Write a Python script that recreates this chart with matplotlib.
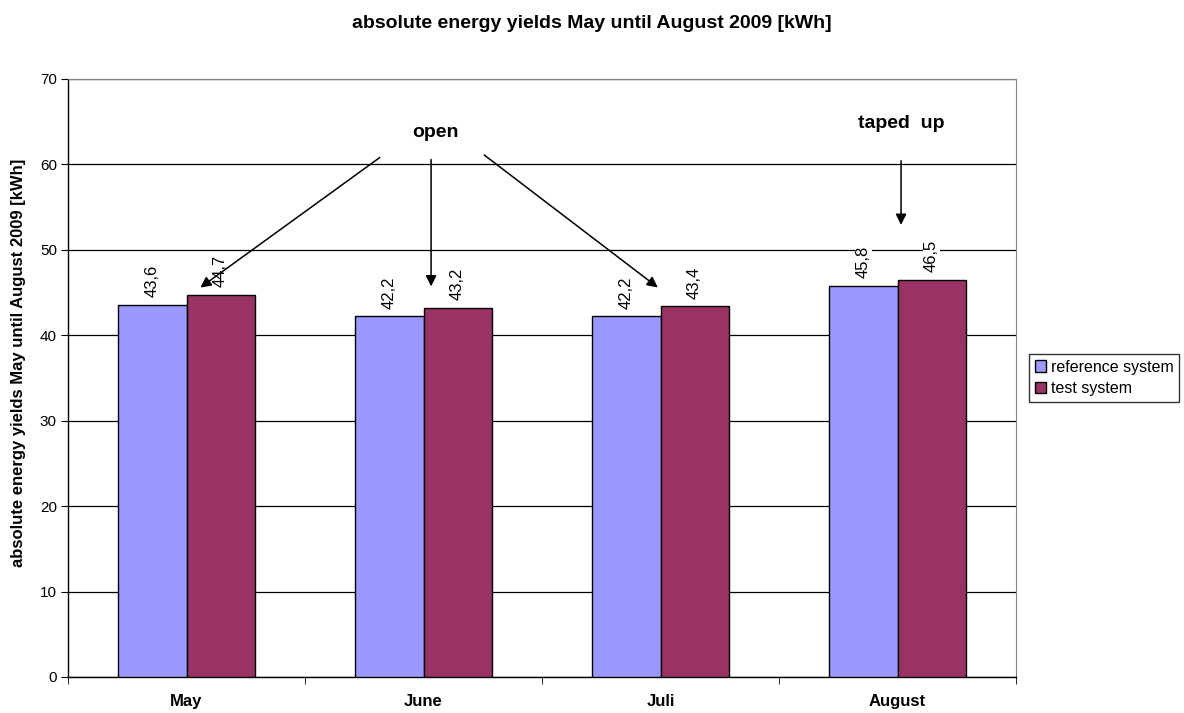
import numpy as np
import matplotlib.pyplot as plt
from matplotlib.patches import Patch

plt.rcParams['font.family'] = ['Liberation Sans', 'DejaVu Sans']

months = ['May', 'June', 'Juli', 'August']
reference = [43.6, 42.2, 42.2, 45.8]
test = [44.7, 43.2, 43.4, 46.5]

c_ref = '#9999ff'
c_test = '#993366'
w = 0.287

fig = plt.figure(figsize=(11.84, 7.13), dpi=100)
ax = fig.add_axes([68/1184, 1-677/713, 948/1184, 598/713])

x = np.arange(len(months))
ax.bar(x - w/2, reference, w, color=c_ref, edgecolor='black', linewidth=1, zorder=3)
ax.bar(x + w/2, test, w, color=c_test, edgecolor='black', linewidth=1, zorder=3)

def lab(v):
    return ('%.1f' % v).replace('.', ',')

for xi, r, t in zip(x, reference, test):
    for xx, v in ((xi - w/2, r), (xi + w/2, t)):
        ax.text(xx, v + 0.9, lab(v), rotation=90, ha='center', va='bottom',
                fontsize=12, zorder=4,
                bbox=dict(facecolor='white', edgecolor='none', pad=1))

ax.set_xlim(-0.5, 3.5)
ax.set_ylim(0, 70)
ax.set_yticks(range(0, 71, 10))
ax.yaxis.grid(True, color='black', linewidth=0.9, zorder=0)
ax.set_axisbelow(True)
ax.set_xticks(x)
ax.set_xticklabels(months, fontweight='bold', fontsize=12)
ax.tick_params(axis='x', length=0, pad=12)
ax.set_xticks(np.arange(-0.5, 4, 1), minor=True)
ax.tick_params(axis='x', which='minor', length=5, direction='out')
ax.tick_params(axis='y', length=5, labelsize=11, pad=3)

for s in ['top', 'right']:
    ax.spines[s].set_color('#808080')
for s in ['left', 'bottom']:
    ax.spines[s].set_color('black')
    ax.spines[s].set_linewidth(1)

ax.set_ylabel('absolute energy yields May until August 2009 [kWh]',
              fontweight='bold', fontsize=12)
ax.yaxis.set_label_coords(-0.044, 0.525)
fig.suptitle('absolute energy yields May until August 2009 [kWh]',
             fontweight='bold', fontsize=14, y=0.979)

arrow = dict(arrowstyle='-|>', color='black', lw=1.1, mutation_scale=16)
ax.text(1.049, 63.7, 'open', ha='center', va='center', fontweight='bold', fontsize=14)
ax.annotate('', xy=(0.049, 45.4), xytext=(0.825, 61.0), arrowprops=arrow, zorder=5)
ax.annotate('', xy=(1.032, 45.4), xytext=(1.032, 60.9), arrowprops=arrow, zorder=5)
ax.annotate('', xy=(1.998, 45.4), xytext=(1.247, 61.3), arrowprops=arrow, zorder=5)
ax.text(3.015, 64.8, 'taped  up', ha='center', va='center', fontweight='bold', fontsize=14)
ax.annotate('', xy=(3.015, 52.6), xytext=(3.015, 60.75), arrowprops=arrow, zorder=5)

handles = [Patch(facecolor=c_ref, edgecolor='black'),
           Patch(facecolor=c_test, edgecolor='black')]
leg = fig.legend(handles, ['reference system', 'test system'],
                 loc='upper left', bbox_to_anchor=(1029/1184, 1-354/713),
                 fontsize=11.5, frameon=True, fancybox=False,
                 handlelength=0.7, handleheight=0.7, handletextpad=0.3,
                 borderpad=0.35, labelspacing=0.4, borderaxespad=0)
leg.get_frame().set_edgecolor('black')
leg.get_frame().set_linewidth(1)

fig.savefig('out.png', dpi=100)
